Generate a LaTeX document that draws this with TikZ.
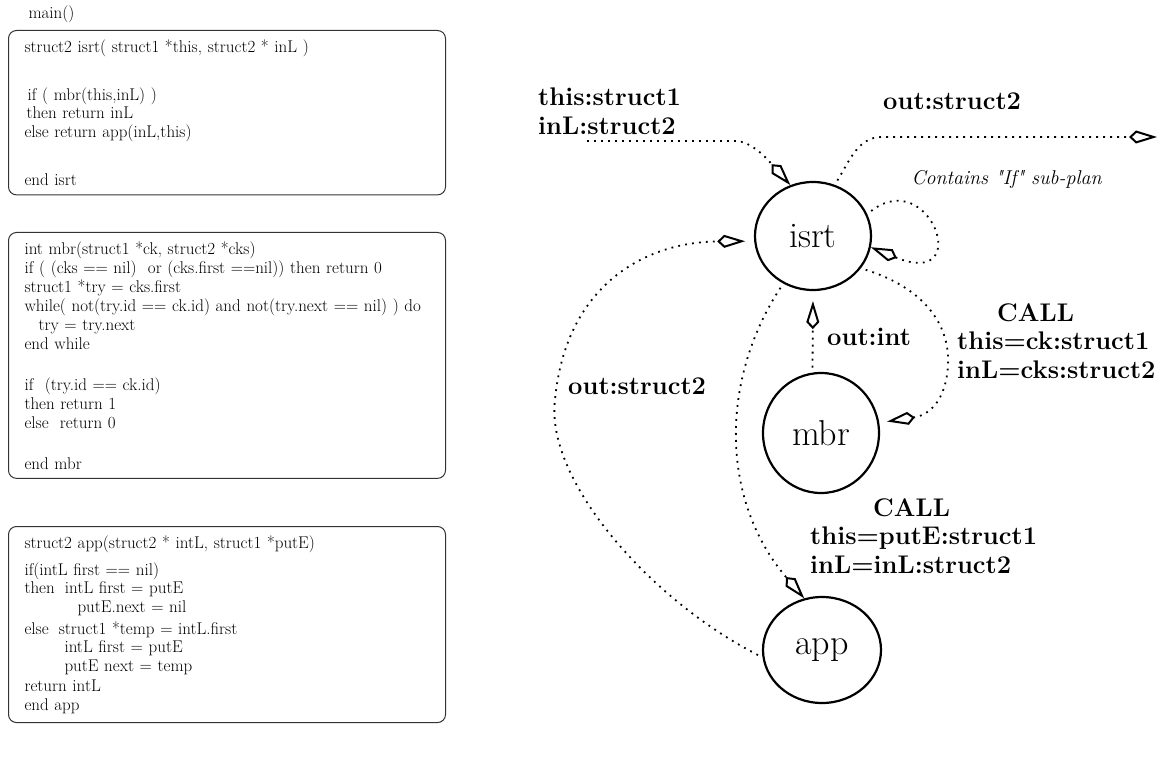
\documentclass[tikz,border=0pt]{standalone}
\usepackage{fontspec}
\usetikzlibrary{arrows.meta,shapes.geometric}

\tikzset{
  plan/.style={draw, ellipse, line width=2.2pt, minimum width=116pt, minimum height=110pt,
    inner sep=0pt, font=\fontsize{36}{40}\selectfont},
  codebox/.style={draw=black!80, line width=1pt, rounded corners=8pt, anchor=north west,
    align=left, text width=405pt, inner xsep=16pt, inner ysep=9pt,
    font=\fontsize{17}{18.5}\selectfont},
  flow/.style={line width=1.8pt, dash pattern=on 1.8pt off 5.2pt, shorten <=5pt,
    -{Kite[open, length=28pt, width=13pt, inset=7pt, line width=2pt]}},
  lab/.style={font=\fontsize{25.5}{28.5}\selectfont\bfseries, align=left, inner sep=0pt},
}

\begin{document}
\begin{tikzpicture}[x=1pt, y=-1pt]
  \useasboundingbox (0,0) rectangle (1162,759);

  % source listings
  \node[anchor=west, font=\fontsize{17}{18.5}\selectfont] (mainhdr) at (25,14) {main()};
  \node[codebox] (isrtcode) at (8,30) {struct2 isrt( struct1 *this, struct2 * inL )\\[29.5pt]
    \hspace*{3pt}if ( mbr(this,inL) )\\
    \hspace*{2pt}then return inL\\
    else return app(inL,this)\\[30pt]
    end isrt};
  \node[codebox, font=\fontsize{17}{19}\selectfont] (mbrcode) at (8,232)
    {int mbr(struct1 *ck, struct2 *cks)\\
    if ( (cks == nil)\ \ or (cks.first ==nil)) then return 0\\
    struct1 *try = cks.first\\
    while( not(try.id == ck.id) and not(try.next == nil) ) do\\
    \hspace*{14pt}try = try.next\\
    end while\\[22pt]
    if\ \ (try.id == ck.id)\\
    then return 1\\
    else\ \ return 0\\[22pt]
    end mbr};
  \node[codebox] (appcode) at (8,526) {struct2 app(struct2 * intL, struct1 *putE)\\[8.5pt]
    if(intL first == nil)\\
    then\hspace{0.6em}intL first = putE\\
    \hspace*{53pt}putE.next = nil\\[3.5pt]
    else\hspace{0.6em}struct1 *temp = intL.first\\
    \hspace*{40pt}intL first = putE\\
    \hspace*{40pt}putE next = temp\\[2pt]
    return intL\\
    end app};

  % plan graph
  \node[plan, minimum height=108pt] (isrt) at (813,236) {isrt};
  \node[plan, minimum height=120pt] (mbr) at (821,433) {mbr};
  \node[plan, minimum width=118pt, minimum height=106pt] (app) at (822,650) {app};

  \coordinate (inport) at (582,141);
  \coordinate (outport) at (1157,137);

  \draw[flow] (inport) -- (735,141) .. controls (752,141) and (768,160) .. (isrt.114);
  \node[lab, anchor=north west] (inlab) at (538,88) {this:struct1\\inL:struct2};

  \draw[flow] (isrt.67) .. controls (850,160) and (858,137) .. (882,137) -- (outport);
  \node[lab, anchor=north west] (outlab) at (883,93) {out:struct2};

  % loop for the sub-plan
  \draw[flow] (isrt.22) .. controls (930,165) and (975,290) .. (isrt.-11);
  \node[anchor=west, font=\fontsize{20}{24}\selectfont\itshape] (subplan) at (908,180)
    {Contains \textquotedbl If\textquotedbl{} sub-plan};

  \draw[flow, shorten >=9pt] (app.187) .. controls (650,600) and (545,480) .. (555,400)
    .. controls (565,290) and (640,242) .. (isrt.185);
  \node[lab, anchor=north west] (retlab) at (568,378) {out:struct2};

  \draw[flow] (isrt.238) .. controls (720,380) and (720,500) .. (app.109);
  \node[lab, anchor=north west] (applab) at (810,498)
    {\hspace*{63pt}CALL\\this=putE:struct1\\inL=inL:struct2};

  \draw[flow, shorten >=10pt] (mbr.98) -- (isrt.270);
  \node[lab, anchor=north west] (intlab) at (827,328) {out:int};

  \draw[flow, shorten >=8pt] (isrt.-34) .. controls (930,290) and (950,330) .. (948,365)
    .. controls (946,400) and (930,415) .. (mbr.10);
  \node[lab, anchor=north west] (mbrlab) at (957,303)
    {\hspace*{40pt}CALL\\this=ck:struct1\\inL=cks:struct2};
\end{tikzpicture}
\end{document}
